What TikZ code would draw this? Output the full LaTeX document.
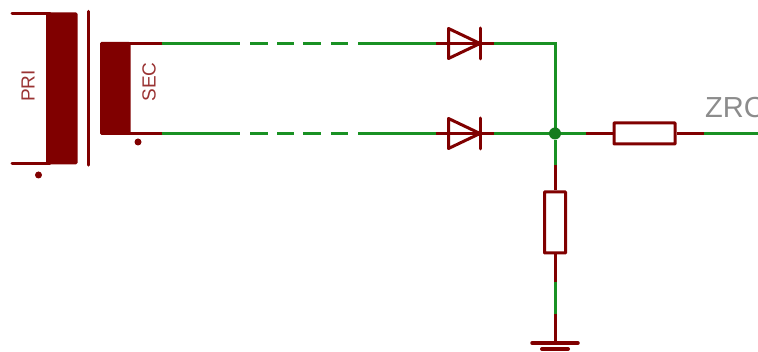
\documentclass[tikz,border=0pt]{standalone}
\usepackage{fontspec}
\setmainfont{Liberation Sans}
\definecolor{sred}{RGB}{128,0,0}
\definecolor{sgreen}{RGB}{25,145,35}
\definecolor{sgray}{RGB}{140,140,140}
\tikzset{
  rw/.style={draw=sred,line width=3pt,line cap=round},
  gw/.style={draw=sgreen,line width=3pt},
  lbl/.style={text=sred!80!white,font=\fontsize{19}{19}\selectfont,rotate=90,inner sep=0pt},
  dot/.style={circle,fill=sred,inner sep=0pt,minimum size=7pt},
  junction/.style={circle,fill=sgreen!85!black,inner sep=0pt,minimum size=12pt},
  resistor/.style={draw=sred,line width=3pt,fill=white,rounded corners=0.5pt,inner sep=0pt},
  pt/.style={inner sep=0pt,minimum size=0pt}
}
\newcommand{\diode}[2]{%
  \draw[rw,line join=round] (#1-31.5,#2-15) -- (#1,#2) -- (#1-31.5,#2+15) -- cycle;
  \draw[rw] (#1,#2-15.5) -- (#1,#2+15.5);
}
\begin{document}
\begin{tikzpicture}[x=1pt,y=-1pt]
\useasboundingbox (0,0) rectangle (758,352);
% transformer
\fill[sred,rounded corners=1.5pt] (46,12.5) rectangle (77.5,164.5);
\coordinate (pt) at (12,13.5);
\coordinate (pb) at (12,163.5);
\coordinate (pti) at (50,13.5);
\coordinate (pbi) at (50,163.5);
\draw[rw] (pt) -- (pti);
\draw[rw] (pb) -- (pbi);
\draw[rw,line width=3.5pt] (88.5,11.5) -- (88.5,165);
\fill[sred,rounded corners=1.5pt] (100,42) rectangle (130.5,135);
\node[lbl] (pri) at (28,86) {PRI};
\node[lbl] (sec) at (149,82) {SEC};
\node[dot] (d1) at (38.5,175) {};
\node[dot] (d2) at (138,142) {};
% top line
\coordinate (sa) at (128,43.5);
\coordinate (sb) at (162,43.5);
\coordinate (sc) at (240,43.5);
\coordinate (ta) at (128,133.5);
\coordinate (tb) at (162,133.5);
\coordinate (tc) at (240,133.5);
\coordinate (td) at (555,43.5);
\coordinate (tj) at (555,133.5);
\draw[gw] (sb) -- (sc);
\draw[gw] (tb) -- (tc);
\draw[rw,line cap=butt] (sa) -- (sb);
\draw[rw,line cap=butt] (ta) -- (tb);
\foreach \y in {43.5,133.5}{
  \foreach \a/\b in {250/268,277/294,303/321,331/348}{
    \draw[gw] (\a,\y) -- (\b,\y);
  }
  \draw[gw] (358,\y) -- (436,\y);
  \draw[rw,line cap=butt] (436,\y) -- (494,\y);
  \diode{480}{\y}
}
\draw[gw] (494,43.5) -- (td) -- (tj);
\draw[gw] (494,133.5) -- (tj);
\node[junction] (j) at (tj) {};
% right resistor
\node[resistor,minimum width=61pt,minimum height=21pt] (r1) at (644.5,133.5) {};
\coordinate (r1a) at (586,133.5);
\coordinate (r1b) at (704,133.5);
\coordinate (out) at (758,133.5);
\draw[gw] (j) -- (r1a);
\draw[rw,line cap=butt] (r1a) -- (r1.west);
\draw[rw,line cap=butt] (r1.east) -- (r1b);
\draw[gw] (r1b) -- (out);
\begin{scope}
\clip (690,85) rectangle (758,125);
\node[anchor=base west,text=sgray,font=\fontsize{29}{29}\selectfont,inner sep=0pt] (zrc) at (705,118) {ZRC};
\end{scope}
% lower resistor
\node[resistor,minimum width=21pt,minimum height=61pt] (r2) at (555,222.5) {};
\coordinate (v1) at (555,165);
\coordinate (v2) at (555,282);
\coordinate (v3) at (555,314);
\coordinate (g) at (555,343);
\draw[gw] (j) -- (v1);
\draw[rw,line cap=butt] (v1) -- (r2.north);
\draw[rw,line cap=butt] (r2.south) -- (v2);
\draw[gw] (v2) -- (v3);
\draw[rw,line cap=butt] (v3) -- (g);
\draw[rw,line width=3.5pt] (532,343) -- (578,343);
\draw[rw,line width=4pt] (542,349) -- (568,349);
\end{tikzpicture}
\end{document}
